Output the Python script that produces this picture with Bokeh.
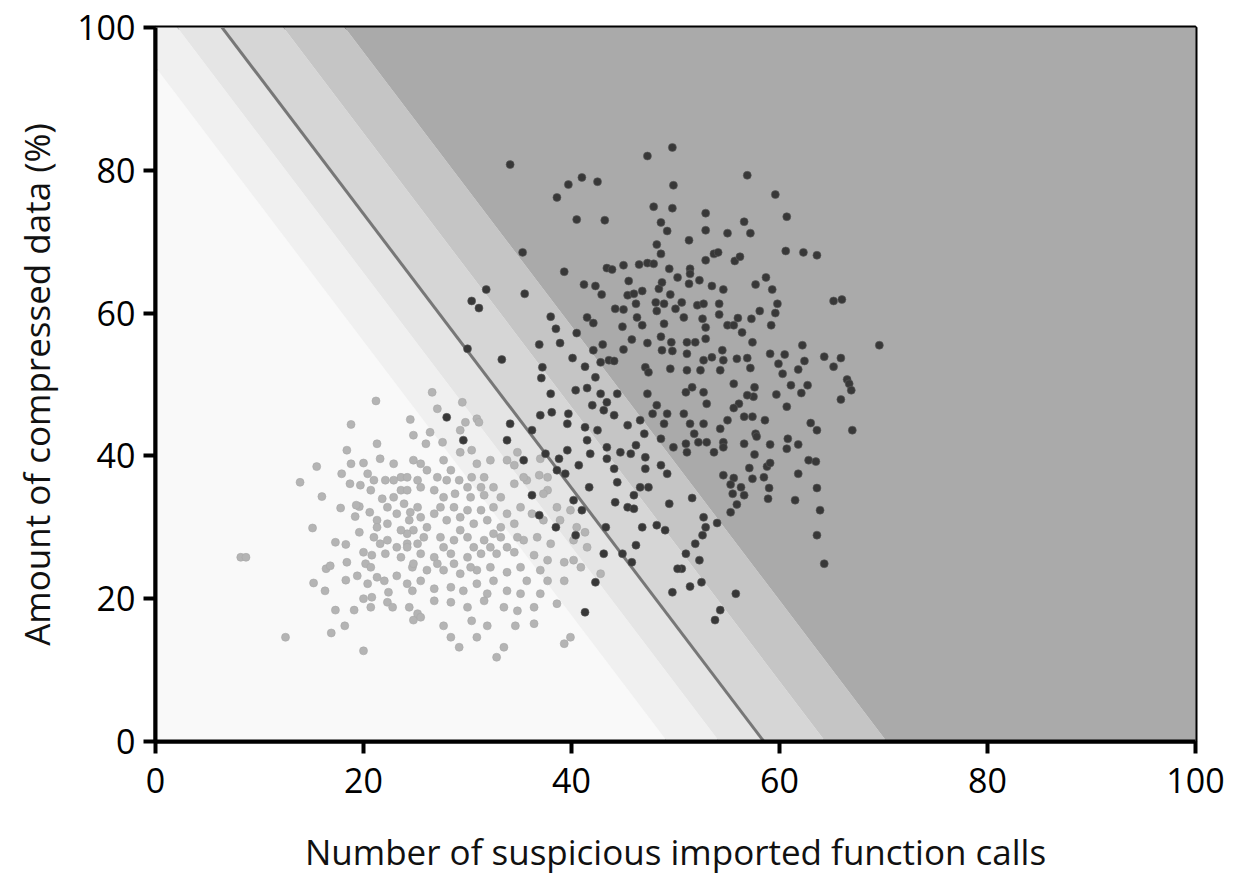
from bokeh.plotting import figure
from bokeh.models import FixedTicker
from bokeh.embed import file_html
from bokeh.resources import INLINE

# ---------------- data ----------------
x_ticks = [0, 20, 40, 60, 80, 100]
y_ticks = [0, 20, 40, 60, 80, 100]
x_label = "Number of suspicious imported function calls"
y_label = "Amount of compressed data (%)"

# linear decision boundary: x = intercept - slope * y
boundary_slope = 0.521
boundary_intercept = 58.5
band_edges = [49.2, 54.2, 58.5, 64.4, 70.3]
band_colors = ["#f9f9f9", "#f0f0f0", "#e5e5e5", "#d6d6d6", "#c5c5c5", "#aaaaaa"]

dark_x = [34.1, 38.6, 39.7, 41.0, 42.5, 40.5, 43.2, 47.3, 49.7, 49.8, 47.9, 49.7, 48.6, 49.2, 48.2, 48.6, 35.3, 39.3, 43.4, 43.9,
          45.0, 46.5, 47.3, 47.9, 49.4, 50.2, 31.8, 30.4, 31.1, 35.5, 41.2, 42.3, 42.9, 45.5, 45.4, 46.0, 46.8, 48.4, 48.7, 49.5,
          46.2, 48.1, 48.9, 44.2, 45.0, 48.2, 50.0, 46.3, 46.8, 48.9, 44.9, 38.0, 38.5, 41.5, 42.1, 40.5, 45.8, 47.3, 48.6, 49.6,
          36.9, 38.9, 43.0, 42.1, 45.0, 48.7, 49.7, 30.0, 33.3, 40.1, 42.8, 43.6, 44.1, 47.1, 47.4, 37.2, 41.3, 49.5, 42.3, 37.1,
          56.9, 59.6, 60.7, 52.9, 56.6, 52.9, 55.0, 57.2, 51.3, 60.6, 62.3, 63.6, 53.7, 54.1, 52.9, 55.7, 56.2, 51.4, 51.4, 51.3,
          52.3, 53.5, 54.6, 57.7, 58.7, 59.3, 65.2, 66.0, 59.8, 59.6, 58.1, 57.3, 59.2, 54.2, 54.2, 52.1, 52.7, 50.6, 50.8, 52.6,
          55.0, 55.6, 56.0, 56.4, 52.9, 57.4, 69.6, 62.2, 62.4, 64.3, 65.9, 65.2, 59.1, 60.5, 59.9, 61.8, 56.9, 57.2, 55.9, 54.5,
          54.6, 51.1, 51.9, 52.9, 51.1, 52.7, 53.5, 51.1, 52.4, 60.3, 66.5, 54.3,
          61.1, 62.7, 62.1, 66.7, 66.9, 65.9, 67.0, 59.7, 60.7, 57.6, 57.5, 56.1, 55.6, 56.6, 57.4, 58.6, 55.0, 54.3, 53.0, 52.7,
          51.4, 50.8, 51.8, 53.0, 52.2, 51.0, 51.1, 54.6, 54.6, 53.7, 56.6, 57.7, 57.8, 59.1, 60.8, 60.7, 61.8, 63.0, 63.6, 62.8,
          63.5, 57.6, 57.1, 58.8, 59.1, 58.5, 57.4, 54.6, 55.6, 55.3, 56.3, 56.6, 55.5, 59.0, 58.9, 61.8, 61.5, 63.6, 63.9, 63.6,
          64.3, 55.9, 55.3, 51.6, 54.0, 52.7, 52.9, 52.6, 51.9, 51.0, 52.3, 50.6, 51.4, 52.5, 55.8, 54.3, 53.8, 51.6, 52.7, 51.0,
          55.6, 56.9,
          38.0, 37.0, 38.1, 40.4, 41.5, 39.7, 39.6, 34.1, 33.8, 35.4, 36.2, 37.5, 39.6, 38.8, 38.6, 39.4, 40.7, 41.7, 40.2, 41.0,
          44.4, 44.2, 41.8, 43.4, 44.1, 41.3, 42.5, 41.5, 43.4, 44.7, 45.7, 46.2, 47.0, 46.6, 45.4, 44.1, 43.1, 42.0, 43.4, 44.4,
          42.8, 47.3, 48.2, 47.8, 49.2, 48.9, 48.6, 49.8, 47.1, 47.1, 48.6, 49.2, 46.6, 47.4, 46.0, 45.4, 46.0, 49.4, 46.8, 48.2,
          49.0, 43.3, 46.2, 43.1, 44.9, 45.8, 40.4, 38.5, 42.3, 41.3, 49.7, 50.2, 36.9, 29.6, 36.2, 28.0]
dark_y = [80.8, 76.2, 78.0, 79.0, 78.4, 73.1, 73.0, 82.0, 83.2, 77.9, 74.9, 74.7, 72.7, 71.5, 69.6, 68.3, 68.5, 65.8, 66.3, 66.1,
          66.7, 66.8, 67.0, 66.9, 66.2, 65.0, 63.3, 61.7, 60.7, 62.7, 64.0, 63.8, 62.6, 64.5, 62.5, 62.7, 63.1, 63.4, 64.3, 62.6,
          61.3, 61.5, 61.3, 60.6, 60.5, 60.3, 60.6, 59.4, 58.3, 58.5, 58.1, 59.5, 57.8, 59.4, 58.6, 57.2, 56.3, 55.8, 56.7, 55.9,
          55.6, 55.8, 55.6, 54.8, 54.9, 54.8, 54.7, 55.0, 53.5, 53.7, 53.1, 53.4, 53.3, 52.4, 51.7, 52.4, 52.5, 52.2, 51.0, 50.9,
          79.3, 76.6, 73.5, 74.0, 72.8, 71.6, 71.2, 71.2, 70.2, 68.7, 68.5, 68.1, 68.3, 68.5, 67.4, 67.3, 67.9, 66.2, 65.5, 64.1,
          64.6, 63.8, 63.3, 64.0, 65.0, 63.3, 61.7, 61.9, 61.3, 60.0, 60.3, 59.2, 58.3, 61.3, 59.8, 61.1, 61.3, 61.5, 59.4, 59.2,
          58.3, 58.3, 59.3, 57.3, 58.0, 55.9, 55.5, 55.5, 53.3, 53.9, 53.7, 52.5, 54.3, 54.2, 52.9, 52.1, 53.7, 52.3, 53.6, 54.8,
          53.4, 55.9, 55.9, 56.4, 54.3, 53.4, 53.8, 52.0, 52.0, 51.5, 50.7, 52.0,
          49.9, 49.9, 48.8, 50.1, 49.2, 47.9, 43.6, 48.6, 46.9, 49.6, 48.3, 47.3, 46.7, 45.5, 45.5, 45.0, 45.0, 43.8, 47.3, 44.5,
          44.5, 45.9, 43.1, 41.9, 41.9, 41.7, 40.5, 41.9, 41.2, 40.5, 41.7, 43.1, 42.7, 41.6, 42.4, 41.0, 41.6, 44.6, 43.6, 39.4,
          39.2, 40.2, 38.3, 38.5, 39.0, 37.0, 36.8, 37.3, 36.9, 36.0, 35.6, 34.5, 34.7, 35.5, 34.0, 37.5, 33.8, 35.5, 32.4, 28.9,
          24.9, 33.2, 32.1, 34.1, 30.6, 31.4, 30.0, 28.9, 27.7, 26.3, 25.4, 24.2, 21.7, 22.3, 20.7, 18.4, 17.0, 49.6, 48.9, 48.9,
          50.1, 48.5,
          48.7, 45.7, 46.1, 49.2, 49.5, 45.9, 44.5, 44.5, 42.2, 39.4, 43.6, 40.3, 40.8, 39.6, 38.0, 37.5, 38.7, 35.6, 33.8, 32.4,
          36.3, 33.5, 40.3, 39.6, 38.2, 44.0, 43.6, 42.2, 41.2, 40.5, 40.3, 41.5, 43.1, 45.0, 44.3, 45.7, 46.4, 47.1, 47.5, 48.7,
          48.7, 48.7, 47.1, 45.9, 45.9, 44.5, 42.4, 41.2, 39.8, 38.2, 38.7, 37.5, 35.6, 35.6, 34.5, 32.8, 32.6, 33.3, 30.0, 30.3,
          29.6, 30.0, 27.5, 26.3, 26.3, 25.1, 28.9, 30.0, 22.3, 18.1, 20.9, 24.2, 31.7, 42.2, 34.5, 45.4]

light_x = [21.2, 18.8, 24.5, 24.8, 21.3, 18.4, 15.5, 13.9, 18.8, 17.9, 20.0, 21.6, 22.9, 24.8, 18.7, 19.7, 20.4, 21.0, 22.1, 23.6,
           16.0, 17.8, 19.6, 19.2, 20.6, 21.8, 22.9, 23.9, 15.1, 19.6, 17.3, 18.3, 21.0, 21.6, 22.3, 23.2, 24.2, 20.0, 20.8, 22.1,
           23.6, 18.4, 16.4, 8.2, 8.7, 20.2, 20.7, 19.4, 18.3, 15.2, 16.3, 21.3, 22.0, 23.2, 24.2, 22.4, 20.0, 20.8, 22.3, 22.8,
           24.4, 24.7, 17.3, 19.1, 20.7, 18.2, 16.9, 12.5, 20.0, 24.8, 25.2, 22.9, 23.6, 22.3, 24.4, 24.8, 25.2, 23.2, 16.8, 19.3,
           26.6, 29.5, 27.1, 29.8, 30.9, 26.4, 27.6, 26.0, 29.3, 30.4, 27.7, 30.9, 32.2, 33.8, 34.8, 26.1, 27.1, 28.4, 29.2, 30.4,
           31.6, 32.5, 34.5, 35.7, 36.9, 25.5, 26.8, 27.7, 28.8, 30.3, 31.6, 33.2, 37.7, 24.5, 25.5, 26.8, 28.0, 29.3, 30.6, 31.9,
           33.2, 34.5, 36.2, 37.3, 38.9, 40.5, 41.3, 24.2, 25.8, 27.4, 28.7, 30.0, 31.6, 33.2, 35.4, 36.7, 38.0, 25.5, 26.8, 28.4,
           30.0, 31.3, 32.8, 34.5, 36.4, 37.7, 39.3, 40.2, 26.1, 27.7, 29.3, 30.9, 33.8, 35.7, 37.7, 39.3, 26.8, 28.4, 29.6, 31.9,
           33.8, 26.8, 28.4, 31.6, 33.5, 34.8, 36.4, 38.6, 25.5, 27.7, 30.4, 31.9, 34.6, 28.4, 30.9, 29.2, 33.5, 32.8, 39.3, 39.9,
           31.1, 29.3, 34.5, 35.4, 38.6, 39.9, 40.2, 37.7, 37.3, 41.5, 40.9, 42.8, 37.0, 24.7, 24.2,
           24.2, 25.2, 25.5, 28.0, 30.0, 31.3, 27.4, 28.7, 30.0, 31.3, 32.5, 33.8, 35.1, 26.1, 29.3, 32.5, 34.8, 27.7, 30.6, 32.2,
           33.8, 27.1, 28.7, 30.3, 32.2, 35.1, 37.0, 25.5, 30.9, 32.5, 35.1, 37.0, 30.0, 36.4, 20.7, 21.3, 22.3, 23.6, 21.3, 24.2,
           25.2, 24.8, 20.4]
light_y = [47.7, 44.4, 45.1, 42.9, 41.7, 40.8, 38.5, 36.3, 38.9, 37.5, 39.0, 39.6, 38.9, 39.4, 36.1, 35.9, 37.5, 36.6, 36.6, 37.0,
           34.3, 32.7, 32.9, 31.5, 32.1, 34.0, 34.2, 33.3, 29.9, 29.3, 27.9, 27.6, 28.6, 27.7, 28.2, 27.2, 27.7, 26.5, 26.1, 26.3,
           25.8, 25.1, 24.2, 25.8, 25.8, 24.9, 24.4, 23.2, 22.6, 22.2, 21.1, 23.0, 22.5, 23.2, 22.1, 20.9, 20.0, 20.2, 19.5, 18.8,
           18.8, 21.1, 18.4, 18.4, 18.8, 16.2, 15.2, 14.6, 12.7, 17.0, 17.9, 36.6, 35.2, 32.8, 31.0, 29.6, 27.7, 31.9, 24.6, 33.1,
           48.9, 47.5, 46.6, 44.7, 45.2, 43.3, 41.9, 41.7, 40.5, 40.8, 39.4, 38.9, 39.4, 39.4, 40.5, 38.0, 37.0, 38.0, 36.6, 37.0,
           37.0, 35.6, 36.1, 36.6, 37.3, 35.6, 35.2, 34.2, 34.7, 34.2, 34.5, 34.2, 35.2, 32.1, 31.4, 31.9, 31.0, 31.4, 30.5, 31.0,
           30.0, 30.5, 31.9, 31.0, 31.0, 30.0, 29.3, 29.1, 28.6, 28.6, 28.2, 28.6, 28.2, 28.6, 28.2, 28.6, 27.7, 26.3, 25.8, 26.3,
           25.8, 26.3, 26.3, 26.5, 26.1, 25.4, 25.1, 25.4, 24.0, 24.0, 23.5, 24.0, 23.7, 22.5, 22.5, 22.5, 21.4, 21.6, 21.1, 20.7,
           21.1, 19.7, 19.5, 19.7, 18.8, 18.3, 18.8, 19.3, 17.4, 16.2, 16.9, 16.2, 16.2, 14.6, 14.6, 13.2, 13.2, 11.8, 13.7, 14.6,
           44.7, 43.6, 38.7, 37.0, 32.8, 32.4, 28.2, 37.0, 34.7, 27.2, 24.4, 23.5, 39.6, 24.4, 27.2,
           37.0, 36.6, 38.9, 36.6, 35.6, 35.6, 32.8, 32.8, 32.4, 32.4, 32.8, 31.9, 32.8, 30.0, 29.6, 29.1, 28.6, 27.2, 27.2, 27.2,
           27.2, 24.9, 24.9, 24.4, 24.4, 24.4, 24.0, 22.5, 22.1, 22.5, 20.7, 20.7, 18.8, 16.5, 35.2, 31.0, 30.5, 29.6, 30.0, 35.2,
           32.8, 24.9, 22.1]

# ---------------- figure ----------------
p = figure(width=1233, height=877, x_range=(0, 100), y_range=(0, 100),
           output_backend="svg", toolbar_location=None,
           min_border_left=155, min_border_right=38, min_border_top=27, min_border_bottom=136)
p.background_fill_color = "#ffffff"
p.border_fill_color = "#ffffff"
p.xgrid.visible = False
p.ygrid.visible = False

# decision bands (parallel to boundary)
edges = [-200.0] + band_edges + [400.0]
y_lo, y_hi = -20.0, 120.0
for i, col in enumerate(band_colors):
    c0, c1 = edges[i], edges[i + 1]
    xs = [c0 - boundary_slope * y_lo, c1 - boundary_slope * y_lo,
          c1 - boundary_slope * y_hi, c0 - boundary_slope * y_hi]
    ys = [y_lo, y_lo, y_hi, y_hi]
    p.patch(xs, ys, fill_color=col, line_color=None)

# decision boundary
p.line([boundary_intercept - boundary_slope * y_lo, boundary_intercept - boundary_slope * y_hi],
       [y_lo, y_hi], line_color="#777777", line_width=3)

# points
p.scatter(light_x, light_y, size=8, fill_color="#b4b4b4", line_color="#a8a8a8", line_width=1, line_alpha=0.6)
p.scatter(dark_x, dark_y, size=8, fill_color="#383838", line_color="#5a5a5a", line_width=1, line_alpha=0.6)

# axes
font = "Open Sans"
for ax, ticks in ((p.xaxis, x_ticks), (p.yaxis, y_ticks)):
    ax.ticker = FixedTicker(ticks=ticks)
    ax.axis_line_width = 4
    ax.axis_line_color = "black"
    ax.major_tick_line_width = 4
    ax.major_tick_line_color = "black"
    ax.major_tick_out = 12
    ax.major_tick_in = 0
    ax.minor_tick_out = 0
    ax.minor_tick_in = 0
    ax.major_label_text_font = font
    ax.major_label_text_font_size = "34px"
    ax.major_label_text_color = "black"
    ax.axis_label_text_font = font
    ax.axis_label_text_font_size = "35px"
    ax.axis_label_text_font_style = "normal"
    ax.axis_label_text_color = "#111111"

p.xaxis.axis_label = x_label
p.yaxis.axis_label = y_label
p.xaxis.major_label_standoff = 14
p.yaxis.major_label_standoff = 8
p.xaxis.axis_label_standoff = 32
p.yaxis.axis_label_standoff = 14

p.outline_line_color = "black"
p.outline_line_width = 4
p.outline_line_alpha = 1.0

open("out.html", "w").write(file_html(p, INLINE))
